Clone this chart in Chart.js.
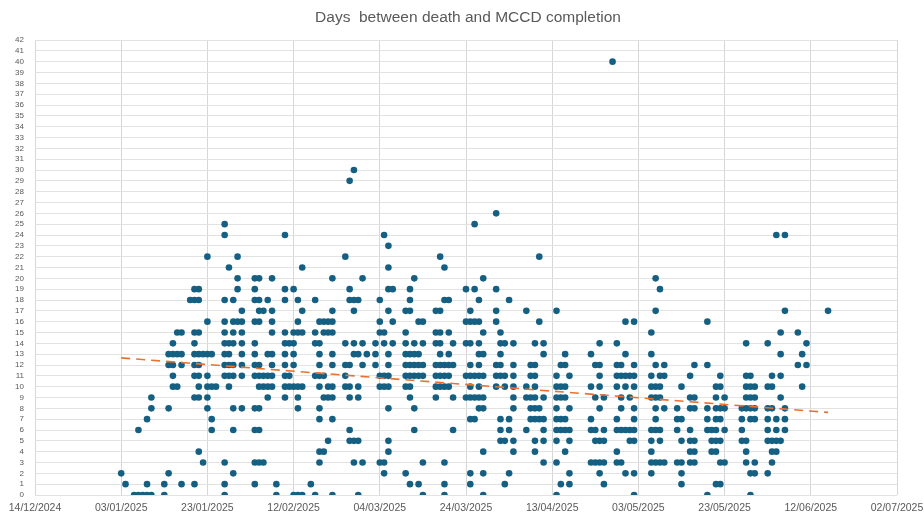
<!DOCTYPE html>
<html>
<head>
<meta charset="utf-8">
<script src="https://cdn.jsdelivr.net/npm/chart.js@4.4.1/dist/chart.umd.min.js"></script>
<style>
  html, body { margin: 0; padding: 0; background: #ffffff; }
  #wrap { width: 924px; height: 515px; position: relative; }
</style>
</head>
<body>
<div id="wrap"><canvas id="chart"></canvas></div>
<script>
// Date of death and the number of days until the MCCD was completed for each death on that date.
const chartTitle = 'Days  between death and MCCD completion';
const axisStartDate = '2024-12-14';
const axisEndDate = '2025-07-02';
const xTickStepDays = 20;
const yMax = 42;

const deathDates = [
  '2025-01-03','2025-01-04','2025-01-06','2025-01-07','2025-01-08','2025-01-09','2025-01-10',
  '2025-01-13','2025-01-14','2025-01-15','2025-01-16','2025-01-17','2025-01-19','2025-01-20',
  '2025-01-21','2025-01-22','2025-01-23','2025-01-24','2025-01-25','2025-01-27','2025-01-28',
  '2025-01-29','2025-01-30','2025-01-31',
  '2025-02-03','2025-02-04','2025-02-05','2025-02-06','2025-02-07','2025-02-08','2025-02-10',
  '2025-02-11','2025-02-12','2025-02-13','2025-02-14','2025-02-16','2025-02-17','2025-02-18',
  '2025-02-19','2025-02-20','2025-02-21','2025-02-24','2025-02-25','2025-02-26','2025-02-27',
  '2025-02-28',
  '2025-03-01','2025-03-03','2025-03-04','2025-03-05','2025-03-06','2025-03-07','2025-03-10',
  '2025-03-11','2025-03-12','2025-03-13','2025-03-14','2025-03-17','2025-03-18','2025-03-19',
  '2025-03-20','2025-03-21','2025-03-24','2025-03-25','2025-03-26','2025-03-27','2025-03-28',
  '2025-03-31',
  '2025-04-01','2025-04-02','2025-04-03','2025-04-04','2025-04-07','2025-04-08','2025-04-09',
  '2025-04-10','2025-04-11','2025-04-14','2025-04-15','2025-04-16','2025-04-17','2025-04-22',
  '2025-04-23','2025-04-24','2025-04-25','2025-04-27','2025-04-28','2025-04-29','2025-04-30',
  '2025-05-01','2025-05-02','2025-05-06','2025-05-07','2025-05-08','2025-05-09','2025-05-12',
  '2025-05-13','2025-05-15','2025-05-16','2025-05-19','2025-05-20','2025-05-21','2025-05-22',
  '2025-05-23','2025-05-27','2025-05-28','2025-05-29','2025-05-30',
  '2025-06-02','2025-06-03','2025-06-04','2025-06-05','2025-06-06','2025-06-09','2025-06-10',
  '2025-06-11','2025-06-16'
];

const daysToMccd = [
  [2],[1],[0],[6,0],[0],[7,1,0],[9,8,0],
  [1,0],[13,12,8,2],[14,13,12,11,10],[15,13,10],[15,13,12,1],[18],[19,18,15,14,13,12,11,9,1],
  [19,18,15,13,12,11,10,9,4],[13,3],[22,16,13,11,10,9,8],[13,10,7,6],[10],[25,24,18,16,15,14,13,12,11,3,1,0],[21,14,13,12,11,10],
  [18,16,15,14,12,11,8,6,2],[22,20,19,16],[17,16,15,14,13,12,11,8],
  [20,19,18,16,14,13,12,11,8,6,3,1],[20,18,17,16,12,11,10,8,6,3],[17,11,10,3],[18,13,11,10,9],[20,17,16,15,13,12,11,10],[1,0],[24,19,18,15,14,13,12,11,10,9],
  [14,11,10],[19,15,14,13,12,10,0],[18,16,15,10,9,8,0],[21,17,15,10,0],[1],[18,15,14,11,0],[16,14,13,12,11,10,8,7,4,3],
  [16,15,11,9,4],[16,15,10,9,5],[20,17,16,15,13,12,10,9,7,0],[22,14,12,11,10],[29,19,18,12,10,9,6,5],[30,18,17,14,13,5,3],[18,13,10,9,5,0],
  [20,14,12,3],
  [13],[14,13,12],[18,16,15,11,10,3],[24,15,14,11,10,3,2],[23,21,19,17,13,12,11,10,8,5,4],[19,16,14],[17,15,14,13,12,11,10,2],
  [19,18,17,13,12,11,10,9,1],[20,14,13,12,11,8,6],[16,13,12,11,1],[16,14,12,11,3,0],[17,15,14,12,11,10,9],[22,17,15,14,13,12,11,10],[21,18,12,11,10,3,1,0],
  [18,15,13,12,11,10],[14,12,9,6],[19,16,14,11,9],[17,16,14,12,11,10,9,7,2,1],[25,19,16,11,9,7],[18,16,14,13,12,11,10,9,8],[20,15,13,11,9,8,4,2,0],
  [26,19,17,16,12,11,10],
  [15,14,13,12,11,7,6,5],[14,11,10,5,1],[18,7,6,2],[14,12,11,10,9,8,5,4],[17,10,9,6],[12,11,9,8,7],[14,12,11,10,9,8,7,5,4],
  [22,16,8,7],[14,13,9,7,6,5,3],[17,11,10,9,8,7,6,5,3,0],[12,10,9,7,6,1],[13,12,10,9,7,6,4],[11,8,6,5,2,1],[13,10,7,6,3],
  [12,9,6,5,3],[14,12,11,10,8,5,3,2],[9,6,5,3,1],[40],[14,12,11,10,7,6,4,3],[12,11,9,8,6,3],[16,13,11,10,6,2],
  [11,9,6,5],[16,12,11,10,8,7,6,5,2,0],[15,13,11,10,9,6,5,4,3,2],[20,17,12,10,9,8,7,6,3],[19,11,10,9,6,5,3],[12,11,8,3],[8,7,6,3],
  [10,7,5,3,2,1],[11,9,8,6,5,4,3],[12,9,8,5,4,3],[16,12,8,7,6,0],[6,5,4],[10,9,8,7,6,5,4,1],[11,10,8,7,5,3,1],
  [9,8,6,3],[8,7,6,5],[14,11,10,9,8,5,4,3],[11,10,9,8,7,2,0],[10,9,8,7,3,2],
  [14,10,8,7,6,5,2],[11,10,8,5,4,3],[24,7,6,5,4],[15,13,11,9,5],[24,17,8,7,6],[15,12],[13,10],
  [14,12],[17]
];

// ---- helpers ----
const DAY_MS = 86400000;
function dateToMs(s) {
  const [y, m, d] = s.split('-').map(Number);
  return Date.UTC(y, m - 1, d);
}
const originMs = dateToMs(axisStartDate);
const toDayIndex = s => Math.round((dateToMs(s) - originMs) / DAY_MS);
const pad2 = n => String(n).padStart(2, '0');
function formatDay(dayIndex) {
  const dt = new Date(originMs + dayIndex * DAY_MS);
  return pad2(dt.getUTCDate()) + '/' + pad2(dt.getUTCMonth() + 1) + '/' + dt.getUTCFullYear();
}

// one scatter point per death
const points = [];
deathDates.forEach((s, i) => {
  const x = toDayIndex(s);
  daysToMccd[i].forEach(v => points.push({ x: x, y: v }));
});

// least-squares linear trend across all deaths
let n = points.length, sx = 0, sy = 0, sxx = 0, sxy = 0;
points.forEach(p => { sx += p.x; sy += p.y; sxx += p.x * p.x; sxy += p.x * p.y; });
const slope = (n * sxy - sx * sy) / (n * sxx - sx * sx);
const intercept = (sy - slope * sx) / n;
const xFirst = Math.min(...points.map(p => p.x));
const xLast = Math.max(...points.map(p => p.x));
const trendPoints = [
  { x: xFirst, y: intercept + slope * xFirst },
  { x: xLast, y: intercept + slope * xLast }
];

const FONT = "'Liberation Sans', 'DejaVu Sans', sans-serif";
const textGrey = '#595959';

// chart title, centred over the plotting area
const titleOverPlot = {
  id: 'titleOverPlot',
  afterDraw(chart) {
    const { ctx, chartArea } = chart;
    ctx.save();
    ctx.fillStyle = textGrey;
    ctx.font = '15.5px ' + FONT;
    ctx.textAlign = 'center';
    ctx.textBaseline = 'middle';
    ctx.fillText(chartTitle, (chartArea.left + chartArea.right) / 2 + 2, 18);
    ctx.restore();
  }
};

new Chart(document.getElementById('chart'), {
  type: 'scatter',
  data: {
    datasets: [
      {
        type: 'line',
        label: 'Linear trend',
        data: trendPoints,
        borderColor: '#E97132',
        borderWidth: 1.6,
        borderDash: [9, 6],
        pointRadius: 0,
        fill: false,
        order: 0
      },
      {
        label: 'Days to MCCD',
        data: points,
        pointRadius: 3.3,
        pointHoverRadius: 3.3,
        backgroundColor: '#156082',
        borderColor: '#156082',
        borderWidth: 0,
        order: 1
      }
    ]
  },
  plugins: [titleOverPlot],
  options: {
    responsive: true,
    maintainAspectRatio: false,
    animation: false,
    layout: { padding: { left: 0, right: 27, top: 40, bottom: 0 } },
    plugins: {
      legend: { display: false },
      tooltip: { enabled: false },
      title: { display: false }
    },
    scales: {
      x: {
        type: 'linear',
        min: 0,
        max: toDayIndex(axisEndDate),
        border: { display: false },
        grid: { color: '#d6d6d6', lineWidth: 1, drawTicks: false },
        ticks: {
          stepSize: xTickStepDays,
          autoSkip: false,
          maxRotation: 0,
          padding: 7,
          color: textGrey,
          font: { family: FONT, size: 10.5 },
          callback: v => formatDay(v)
        },
        afterFit: s => { s.height = 20; s.paddingLeft = 0; s.paddingRight = 0; }
      },
      y: {
        min: 0,
        max: yMax,
        border: { display: false },
        grid: { color: '#e2e2e2', lineWidth: 1, drawTicks: false },
        ticks: {
          stepSize: 1,
          autoSkip: false,
          padding: 11,
          color: textGrey,
          font: { family: FONT, size: 8 }
        },
        afterFit: s => { s.width = 35; s.paddingTop = 0; s.paddingBottom = 0; }
      }
    }
  }
});
</script>
</body>
</html>
